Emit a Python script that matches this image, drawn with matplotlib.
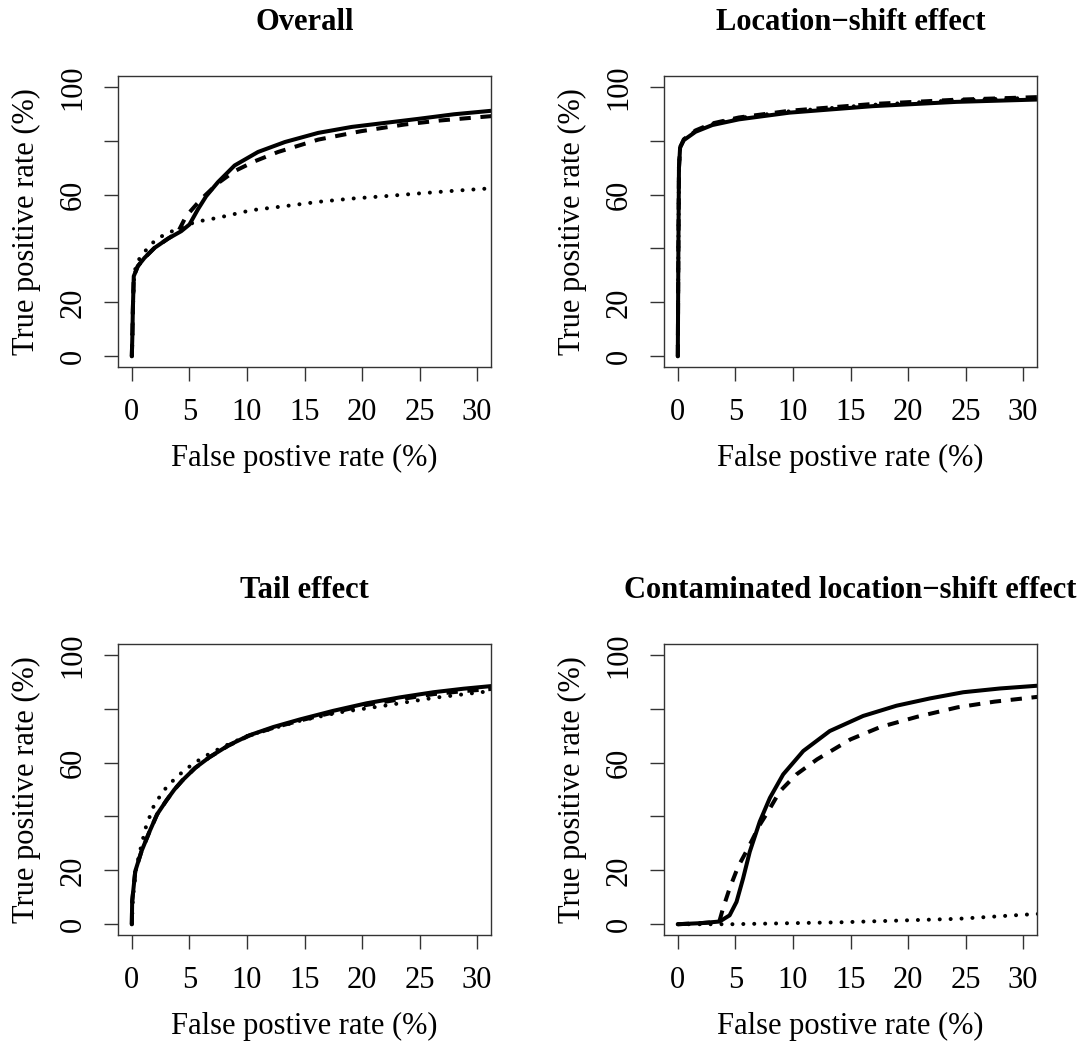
import matplotlib
matplotlib.use("Agg")
import matplotlib.pyplot as plt

plt.rcParams["font.family"] = ["Liberation Serif", "DejaVu Serif"]

# ---- data (FPR %, TPR %) ----
# Overall
ov_solid_x = [0, 0.05, 0.09, 0.17, 0.52, 1.1, 1.97, 3.13, 4.29, 5.01, 5.74, 6.46, 7.48,
              8.93, 10.96, 13.3, 16.2, 19.1, 22.0, 24.9, 28.0, 31.5]
ov_solid_y = [0, 8, 17.3, 29.7, 33.4, 36.5, 40.2, 43.6, 46.4, 48.9, 54.5, 59.4, 64.6,
              70.8, 75.8, 79.5, 82.9, 85.1, 86.6, 88.1, 89.8, 91.2]
ov_dash_x = [0, 0.05, 0.09, 0.17, 0.52, 1.1, 1.97, 3.13, 4.0, 4.72, 6.0, 7.48, 8.93,
             10.7, 12.7, 16.2, 19.9, 23.7, 26.8, 31.5]
ov_dash_y = [0, 8, 17.3, 29.7, 33.4, 36.5, 40.2, 43.6, 46.0, 52.0, 58.2, 64.2, 68.7,
             72.4, 75.8, 80.4, 83.5, 86.0, 87.5, 89.2]
ov_dot_x = [0, 0.05, 0.1, 0.2, 0.4, 0.81, 1.39, 2.1, 3.0, 3.85, 4.8, 5.6, 7.5, 10.4,
            13.3, 16.2, 19.1, 22.0, 24.9, 28.0, 31.5]
ov_dot_y = [0, 8, 18, 30, 34.5, 37.1, 40.2, 43.3, 45.5, 47.0, 48.7, 49.9, 51.4, 54.2,
            55.7, 57.3, 58.5, 59.4, 60.4, 61.4, 62.4]

# Location-shift effect
ls_x = [0, 0.05, 0.1, 0.2, 0.52, 1.54, 3.0, 5.3, 9.7, 16.9, 24.2, 31.5]
ls_solid_y = [0, 40, 70, 77.5, 80.2, 83.3, 85.8, 87.9, 90.4, 92.8, 94.4, 95.3]
ls_dash_y = [0, 40, 70, 77.5, 80.5, 83.8, 86.4, 88.6, 91.1, 93.6, 95.2, 96.2]
ls_dot_y = [0, 40, 70, 77.5, 80.4, 83.6, 86.2, 88.4, 90.9, 93.3, 95.0, 96.0]

# Tail effect
tl_x = [0, 0.03, 0.3, 0.85, 1.57, 2.2, 3.0, 3.7, 4.4, 5.5, 6.75, 8.4, 10.2, 12.3,
        14.6, 17.5, 20.4, 23.3, 26.2, 28.8, 31.5]
tl_solid_y = [0, 8.5, 19.7, 27.2, 34.7, 40.8, 45.9, 50.0, 53.4, 58.0, 62.0, 66.4, 70.1,
              73.2, 76.0, 79.2, 82.0, 84.2, 86.1, 87.4, 88.5]
tl_dash_y = [0, 8.5, 19.7, 27.2, 34.7, 40.8, 45.9, 50.0, 53.4, 58.0, 62.0, 66.3, 70.0,
             72.9, 75.6, 78.6, 81.4, 83.5, 85.4, 86.5, 87.4]
tl_dot_x = [0, 0.1, 0.38, 0.82, 1.25, 1.97, 3.1, 4.6, 6.2, 7.9, 10.2, 14.6, 18.0,
            21.8, 26.2, 31.5]
tl_dot_y = [0, 10, 21, 29.1, 36.5, 44.6, 51.4, 57.3, 62.0, 65.8, 70.2, 75.5, 78.6,
            81.0, 84.0, 86.7]

# Contaminated location-shift effect
cl_solid_x = [0, 2.0, 3.63, 4.5, 5.1, 5.67, 6.25, 7.12, 8.0, 9.15, 10.9, 13.2, 16.1,
              19.0, 21.9, 24.8, 28.0, 31.5]
cl_solid_y = [0, 0.4, 1.0, 3.3, 8.3, 17.0, 26.9, 38.1, 46.9, 55.6, 64.3, 71.7, 77.3,
              81.1, 83.8, 86.1, 87.5, 88.6]
cl_dash_x = [0, 2.0, 3.6, 3.92, 4.5, 5.23, 6.1, 7.12, 7.85, 8.86, 10.3, 12.1, 15.0,
             17.6, 20.8, 24.3, 27.5, 31.5]
cl_dash_y = [0, 0.4, 0.9, 5.8, 13.3, 21.3, 28.2, 36.9, 41.9, 49.3, 55.6, 61.2, 68.6,
             73.2, 77.0, 80.5, 82.6, 84.5]
cl_dot_x = [0, 4.65, 14.0, 24.3, 31.5]
cl_dot_y = [0, 0, 0.7, 2.0, 3.9]

titles = ["Overall", "Location\u2212shift effect", "Tail effect",
          "Contaminated location\u2212shift effect"]
panels = [
    [(ov_solid_x, ov_solid_y), (ov_dash_x, ov_dash_y), (ov_dot_x, ov_dot_y)],
    [(ls_x, ls_solid_y), (ls_x, ls_dash_y), (ls_x, ls_dot_y)],
    [(tl_x, tl_solid_y), (tl_x, tl_dash_y), (tl_dot_x, tl_dot_y)],
    [(cl_solid_x, cl_solid_y), (cl_dash_x, cl_dash_y), (cl_dot_x, cl_dot_y)],
]
x_ticks = [0, 5, 10, 15, 20, 25, 30]
y_ticks = [0, 20, 40, 60, 80, 100]
y_tick_labels = ["0", "20", "", "60", "", "100"]

W, H = 1091, 1046
boxes = [(118, 76), (664, 76), (118, 644), (664, 644)]  # left, top in px
bw, bh = 373, 291

fig = plt.figure(figsize=(W / 100, H / 100), dpi=100)
styles = [dict(linestyle="-"),
          dict(linestyle=(0, (2.8, 2.4))),
          dict(linestyle=(0, (0.01, 2.7)), dash_capstyle="round")]
FS = 22

for (left, top), title, series in zip(boxes, titles, panels):
    ax = fig.add_axes([left / W, (H - top - bh) / H, bw / W, bh / H])
    for (xs, ys), st in zip(series, styles):
        ax.plot(xs, ys, color="black", lw=2.9, solid_capstyle="round",
                solid_joinstyle="round", **st)
    ax.set_xlim(-1.2, 31.2)
    ax.set_ylim(-4, 104)
    ax.set_xticks(x_ticks)
    ax.set_yticks(y_ticks)
    ax.set_yticklabels(y_tick_labels)
    ax.tick_params(direction="out", length=10, width=1, color="#333333",
                   labelsize=FS)
    ax.tick_params(axis="x", pad=12)
    ax.tick_params(axis="y", pad=12, labelrotation=90)
    for lab in ax.get_yticklabels():
        lab.set_va("center")
    for sp in ax.spines.values():
        sp.set_color("#333333")
        sp.set_linewidth(1)
    ax.set_xlabel("False postive rate (%)", fontsize=FS)
    ax.xaxis.set_label_coords(0.5, -91 / bh)
    ax.xaxis.label.set_va("center")
    ax.set_ylabel("True positive rate (%)", fontsize=FS)
    ax.yaxis.set_label_coords(-92 / bw, 0.5)
    ax.yaxis.label.set_va("center")
    ax.text(0.5, 1 + 54 / bh, title, transform=ax.transAxes, ha="center",
            va="center", fontsize=FS, fontweight="bold")

fig.savefig("out.png", dpi=100)
